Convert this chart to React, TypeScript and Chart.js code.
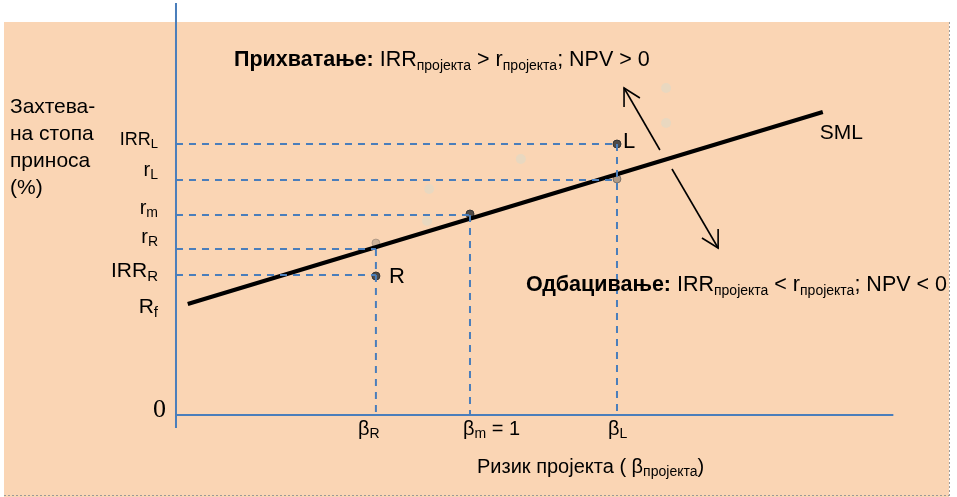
import { useEffect, useRef } from "react";
import { Chart, registerables } from "chart.js";

Chart.register(...registerables);

// ---------------- data ----------------
const betaNames = ["R", "m", "L"];
const betaValues = [0.68, 1.0, 1.5];

const rateNames = ["IRR", "r", "r", "r", "IRR", "R"];
const rateSubs = ["L", "L", "m", "R", "R", "f"];
const rateValues = [13.55, 11.75, 10.0, 8.3, 7.0, 5.4];
const rateGuideBeta = [1.5, 1.5, 1.0, 0.68, 0.68, 0];

const smlBeta = [0.04, 2.2];
const smlRate = [5.55, 15.15];

const projectNames = ["L", "R"];
const projectBeta = [1.5, 0.68];
const projectIRR = [13.55, 6.95];

const requiredBeta = [1.5, 1.0, 0.68];
const requiredRate = [11.8, 10.05, 8.6];

const ghostBeta = [0.854, 0.861, 1.173, 1.667, 1.667];
const ghostRate = [9.7, 11.3, 12.8, 16.35, 14.6];

const acceptShaftBeta = [1.646, 1.524];
const acceptShaftRate = [13.25, 16.35];
const acceptHeadBeta = [1.524, 1.524, 1.578];
const acceptHeadRate = [15.4, 16.35, 15.85];

const rejectShaftBeta = [1.687, 1.844];
const rejectShaftRate = [12.3, 8.35];
const rejectHeadBeta = [1.844, 1.844, 1.789];
const rejectHeadRate = [9.3, 8.35, 8.85];

const xAxisEnd = 2.44;
const yAxisBottom = -0.65;
const yAxisTop = 20.6;

const X_MIN = -0.5986;
const X_MAX = 2.6565;
const Y_MIN = -4.1;
const Y_MAX = 20.75;

// ---------------- helpers ----------------
type Run = { t: string; bold?: boolean; sub?: boolean };
const FAMILY = '"Liberation Sans", Arial, sans-serif';

function drawRuns(
  ctx: CanvasRenderingContext2D,
  runs: Run[],
  x: number,
  y: number,
  size: number,
  align: "left" | "right" | "center" = "left",
  subSize?: number
) {
  const ss = subSize ?? Math.round(size * 0.7);
  const fontFor = (r: Run) => `${r.bold ? "bold " : ""}${r.sub ? ss : size}px ${FAMILY}`;
  ctx.save();
  ctx.textAlign = "left";
  ctx.textBaseline = "alphabetic";
  ctx.fillStyle = "#000";
  let total = 0;
  for (const r of runs) {
    ctx.font = fontFor(r);
    total += ctx.measureText(r.t).width;
  }
  let cx = align === "right" ? x - total : align === "center" ? x - total / 2 : x;
  for (const r of runs) {
    ctx.font = fontFor(r);
    ctx.fillText(r.t, cx, y + (r.sub ? size * 0.17 : 0));
    cx += ctx.measureText(r.t).width;
  }
  ctx.restore();
}

const pts = (xs: number[], ys: number[]) => xs.map((x, i) => ({ x, y: ys[i] }));

const BLUE = "#4A7EBB";

export default function App() {
  const ref = useRef<HTMLCanvasElement>(null);

  useEffect(() => {
    if (!ref.current) return;

    const datasets: any[] = [];

    datasets.push({
      label: "ghost",
      data: pts(ghostBeta, ghostRate),
      pointRadius: 5,
      pointBackgroundColor: "#E9D8C0",
      pointBorderWidth: 0,
      showLine: false,
    });

    // horizontal guides
    rateValues.forEach((v, i) => {
      if (rateGuideBeta[i] <= 0) return;
      datasets.push({
        label: "h" + i,
        data: [
          { x: 0, y: v },
          { x: rateGuideBeta[i], y: v },
        ],
        showLine: true,
        borderColor: BLUE,
        borderWidth: 2,
        borderDash: [7, 6],
        pointRadius: 0,
      });
    });
    // vertical guides
    betaValues.forEach((b, i) => {
      const top = Math.max(...rateValues.filter((_, j) => rateGuideBeta[j] === b));
      datasets.push({
        label: "v" + i,
        data: [
          { x: b, y: top },
          { x: b, y: 0 },
        ],
        showLine: true,
        borderColor: BLUE,
        borderWidth: 2,
        borderDash: [7, 6],
        pointRadius: 0,
      });
    });

    // axes
    datasets.push({
      label: "xAxis",
      data: [
        { x: 0, y: 0 },
        { x: xAxisEnd, y: 0 },
      ],
      showLine: true,
      borderColor: BLUE,
      borderWidth: 2,
      pointRadius: 0,
    });
    datasets.push({
      label: "yAxis",
      data: [
        { x: 0, y: yAxisBottom },
        { x: 0, y: yAxisTop },
      ],
      showLine: true,
      borderColor: BLUE,
      borderWidth: 2,
      pointRadius: 0,
    });

    // SML
    datasets.push({
      label: "SML",
      data: pts(smlBeta, smlRate),
      showLine: true,
      borderColor: "#000",
      borderWidth: 4,
      pointRadius: 0,
    });

    // arrows
    const arrow = (label: string, xs: number[], ys: number[]) => ({
      label,
      data: pts(xs, ys),
      showLine: true,
      borderColor: "#000",
      borderWidth: 1.6,
      pointRadius: 0,
      tension: 0,
    });
    datasets.push(arrow("acceptShaft", acceptShaftBeta, acceptShaftRate));
    datasets.push(arrow("acceptHead", acceptHeadBeta, acceptHeadRate));
    datasets.push(arrow("rejectShaft", rejectShaftBeta, rejectShaftRate));
    datasets.push(arrow("rejectHead", rejectHeadBeta, rejectHeadRate));

    // points
    datasets.push({
      label: "required",
      data: pts(requiredBeta, requiredRate),
      showLine: false,
      pointRadius: 4,
      pointBackgroundColor: ["rgba(110,105,100,0.55)", "rgba(60,60,60,0.9)", "rgba(150,135,120,0.45)"],
      pointBorderColor: ["rgba(80,80,80,0.6)", "#333", "rgba(120,110,100,0.4)"],
      pointBorderWidth: 1,
    });
    datasets.push({
      label: "projects",
      data: pts(projectBeta, projectIRR),
      showLine: false,
      pointRadius: 4,
      pointBackgroundColor: "rgba(60,60,60,0.9)",
      pointBorderColor: "#333",
      pointBorderWidth: 1,
    });

    const bgPlugin = {
      id: "bg",
      beforeDraw(chart: any) {
        const ctx: CanvasRenderingContext2D = chart.ctx;
        ctx.save();
        ctx.fillStyle = "#FFFFFF";
        ctx.fillRect(0, 0, chart.width, chart.height);
        ctx.fillStyle = "#FAD5B4";
        ctx.fillRect(4, 22, 945, 475);
        ctx.strokeStyle = "#9a9a9a";
        ctx.lineWidth = 1;
        ctx.setLineDash([2, 2]);
        ctx.beginPath();
        ctx.moveTo(4, 495.5);
        ctx.lineTo(949.5, 495.5);
        ctx.moveTo(949.5, 22);
        ctx.lineTo(949.5, 496);
        ctx.stroke();
        ctx.restore();
      },
    };

    const labelSizes = [18, 20, 20, 20, 21, 21];
    const labelDy = [1, -4, -1, -6, 2, 6];
    const betaDx = [-18, -7, -9];

    const textPlugin = {
      id: "texts",
      afterDraw(chart: any) {
        const ctx: CanvasRenderingContext2D = chart.ctx;
        const xs = chart.scales.x;
        const ys = chart.scales.y;
        const X = (v: number) => xs.getPixelForValue(v);
        const Y = (v: number) => ys.getPixelForValue(v);

        // y-axis title
        const yTitle = ["Захтева-", "на стопа", "приноса", "(%)"];
        yTitle.forEach((t, i) => drawRuns(ctx, [{ t }], 10, 113 + i * 27, 21));

        // rate tick labels
        rateValues.forEach((v, i) => {
          drawRuns(
            ctx,
            [{ t: rateNames[i] }, { t: rateSubs[i], sub: true }],
            158,
            Y(v) + labelDy[i],
            labelSizes[i],
            "right"
          );
        });

        // zero
        ctx.save();
        ctx.font = '26px "Liberation Serif", "Times New Roman", serif';
        ctx.fillStyle = "#000";
        ctx.textAlign = "right";
        ctx.textBaseline = "alphabetic";
        ctx.fillText("0", 166, Y(0) + 2);
        ctx.restore();

        // beta labels
        betaValues.forEach((b, i) => {
          const runs: Run[] = [{ t: "β" }, { t: betaNames[i], sub: true }];
          if (betaNames[i] === "m") runs.push({ t: " = 1" });
          drawRuns(ctx, runs, X(b) + betaDx[i], Y(0) + 20, 20);
        });

        // x-axis title
        drawRuns(
          ctx,
          [{ t: "Ризик пројекта ( β" }, { t: "пројекта", sub: true }, { t: ")" }],
          477,
          473,
          20
        );

        // project labels
        drawRuns(ctx, [{ t: projectNames[0] }], X(projectBeta[0]) + 6, Y(projectIRR[0]) + 4, 22);
        drawRuns(ctx, [{ t: projectNames[1] }], X(projectBeta[1]) + 13, Y(projectIRR[1]) + 7, 22);

        // SML label
        drawRuns(ctx, [{ t: "SML" }], X(smlBeta[1]) - 3, Y(smlRate[1]) + 27, 21);

        // decision rules
        drawRuns(
          ctx,
          [
            { t: "Прихватање:", bold: true },
            { t: " IRR" },
            { t: "пројекта", sub: true },
            { t: " > r" },
            { t: "пројекта", sub: true },
            { t: "; NPV > 0" },
          ],
          234,
          66,
          21.5,
          "left",
          14
        );
        drawRuns(
          ctx,
          [
            { t: "Одбацивање:", bold: true },
            { t: " IRR" },
            { t: "пројекта", sub: true },
            { t: " < r" },
            { t: "пројекта", sub: true },
            { t: "; NPV < 0" },
          ],
          526,
          291,
          21.5,
          "left",
          14
        );
      },
    };

    const chart = new Chart(ref.current, {
      type: "scatter",
      data: { datasets },
      options: {
        responsive: false,
        maintainAspectRatio: false,
        animation: false,
        events: [],
        layout: { padding: 0, autoPadding: false } as any,
        plugins: {
          legend: { display: false },
          tooltip: { enabled: false },
        },
        scales: {
          x: { type: "linear", display: false, min: X_MIN, max: X_MAX },
          y: { type: "linear", display: false, min: Y_MIN, max: Y_MAX },
        },
      },
      plugins: [bgPlugin, textPlugin],
    });

    return () => chart.destroy();
  }, []);

  return (
    <div style={{ position: "absolute", left: 0, top: 0, width: 957, height: 497 }}>
      <canvas ref={ref} width={957} height={497} style={{ display: "block" }} />
    </div>
  );
}
